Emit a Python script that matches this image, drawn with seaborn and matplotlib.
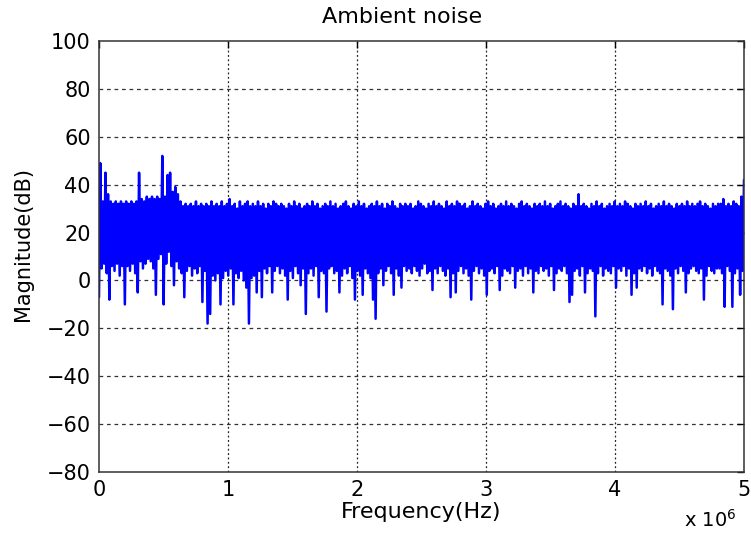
import numpy as np
import pandas as pd
import matplotlib
matplotlib.use("Agg")
import matplotlib.pyplot as plt
import seaborn as sns

# ---- data (dB) ----
# upper envelope peaks, one every ~0.02 MHz from 0 to 5 MHz
upper_db = [
    49, 33, 45, 36, 33, 32, 33, 32, 33, 32,
    33, 32, 33, 32, 33, 45, 34, 33, 35, 34,
    35, 34, 35, 34, 52, 35, 44, 45, 37, 39,
    36, 33, 31, 32, 31, 32, 31, 33, 31, 32,
    31, 32, 31, 33, 31, 32, 31, 33, 31, 32,
    34, 31, 32, 30, 33, 31, 32, 33, 31, 32,
    31, 33, 31, 32, 30, 32, 31, 33, 32, 31,
    32, 31, 30, 32, 31, 33, 31, 32, 30, 31,
    32, 31, 33, 31, 32, 30, 31, 32, 31, 33,
    31, 32, 30, 31, 32, 33, 31, 30, 32, 31,
    33, 31, 32, 30, 31, 32, 31, 33, 31, 32,
    30, 32, 31, 33, 31, 30, 32, 31, 32, 31,
    32, 30, 31, 33, 32, 31, 30, 32, 31, 33,
    31, 32, 31, 30, 33, 31, 32, 31, 33, 32,
    31, 32, 30, 31, 33, 31, 32, 31, 30, 32,
    33, 31, 32, 30, 31, 32, 31, 33, 31, 32,
    31, 30, 32, 33, 31, 32, 31, 30, 32, 31,
    32, 31, 33, 31, 32, 30, 31, 32, 33, 31,
    32, 31, 30, 32, 31, 36, 31, 32, 31, 30,
    32, 31, 33, 31, 32, 30, 31, 32, 31, 33,
    31, 32, 31, 33, 32, 31, 30, 32, 31, 32,
    31, 33, 31, 32, 30, 31, 32, 31, 33, 31,
    32, 31, 30, 32, 31, 32, 31, 33, 31, 32,
    31, 32, 33, 31, 32, 31, 30, 32, 31, 32,
    32, 34, 31, 32, 31, 33, 32, 31, 35, 42,
]
# lower envelope troughs, same spacing
lower_db = [
    -7, 5, 7, 3, -8, 6, 4, 7, 2, 6,
    -10, 6, 4, 7, 3, -5, 8, 5, 7, 9,
    8, 5, -6, 9, 11, -10, 7, 12, 6, -2,
    8, 5, 3, -7, 4, 6, 2, 5, 3, 6,
    -9, 4, -18, -14, 2, 0, 3, -10, 1, 4,
    2, 5, -10, 3, 1, 4, 0, -3, -18, 1,
    2, -5, 4, -7, 5, 3, 6, -5, 4, 6,
    3, 5, 2, -8, 4, 1, 6, 3, -2, 5,
    -14, 3, 5, 2, 6, -7, 4, 3, -13, 5,
    6, 3, 4, -5, 2, 5, 3, 6, 1, -8,
    4, 2, -6, 5, 3, 1, -8, -16, 3, 5,
    -2, 4, 6, 3, -6, 5, 2, -3, 6, 4,
    5, 3, 6, 4, 2, 5, 7, 3, 4, -4,
    5, 3, 6, 4, 2, 5, -7, 3, -5, 4,
    6, 3, 5, 2, -8, 4, 6, 3, 5, 2,
    -6, 4, 5, 3, 6, -4, 2, 5, 4, 3,
    6, -3, 4, 5, 2, 6, 3, 5, -5, 4,
    3, 6, 4, 5, 2, 6, -4, 3, 5, 4,
    6, 3, -9, -6, 4, 5, 2, 6, -5, 3,
    5, 4, -15, 3, 6, 2, 5, 4, 3, 6,
    -3, 5, 4, 6, 2, 5, -6, 3, -3, 5,
    4, 6, 3, 5, 2, 6, 4, 3, -10, 5,
    4, 2, -12, 5, 3, 6, 4, -5, 3, 5,
    6, 4, 3, 5, -8, 2, 6, 4, 3, 5,
    5, 3, -11, 6, 4, -11, 3, 5, -6, 4,
]
f_max_hz = 5e6
x_ticks = [0, 1e6, 2e6, 3e6, 4e6, 5e6]
x_tick_labels = ["0", "1", "2", "3", "4", "5"]
y_ticks = [-80, -60, -40, -20, 0, 20, 40, 60, 80, 100]
title = "Ambient noise"
x_label = "Frequency(Hz)"
y_label = "Magnitude(dB)"

# interleave trough / peak into one spectrum trace
mag = np.empty(len(upper_db) + len(lower_db))
mag[0::2] = lower_db
mag[1::2] = upper_db
freq = np.linspace(0, f_max_hz, len(mag))
df = pd.DataFrame({"freq": freq, "mag": mag})

sns.set_style("white")
plt.rcParams["font.family"] = ["DejaVu Sans"]
plt.rcParams["text.color"] = "black"
plt.rcParams["path.simplify"] = False

fig = plt.figure(figsize=(7.51, 5.35), dpi=100)
ax = fig.add_axes([99 / 751, 63 / 535, 645 / 751, 431 / 535])

sns.lineplot(data=df, x="freq", y="mag", color=(0, 0, 1), lw=1.8,
             estimator=None, sort=False, ax=ax)
for ln in ax.lines:
    ln.set_solid_joinstyle("round")

ax.set_xlim(0, f_max_hz)
ax.set_ylim(-80, 100)
ax.set_xticks(x_ticks)
ax.set_xticklabels(x_tick_labels)
ax.set_yticks(y_ticks)
ax.tick_params(direction="in", length=5, width=1, top=True, right=True,
               labelsize=15, colors="black", pad=6)
ax.grid(False)
for yv in y_ticks[1:-1]:
    ax.axhline(yv, color="#333333", lw=0.9, ls=(0, (3, 3)), zorder=0)
for xv in x_ticks[1:-1]:
    ax.axvline(xv, color="#222222", lw=0.9, ls=(0, (1.5, 2)), zorder=0)
for s in ax.spines.values():
    s.set_color("#333333")
    s.set_linewidth(1.1)
    s.set_visible(True)

ax.set_xlabel("")
ax.set_ylabel("")
fig.text(421 / 751, 1 - 512 / 535, x_label, ha="center", va="center",
         fontsize=16, color="black")
fig.text(23 / 751, 1 - 244 / 535, y_label, ha="center", va="center",
         rotation=90, fontsize=15, color="black")
fig.text(402 / 751, 1 - 17 / 535, title, ha="center", va="center",
         fontsize=16, color="black")
fig.text(710 / 751, 1 - 520 / 535, r"x 10$^{6}$", ha="center", va="center",
         fontsize=14, color="black")

fig.savefig("out.png", dpi=100)
